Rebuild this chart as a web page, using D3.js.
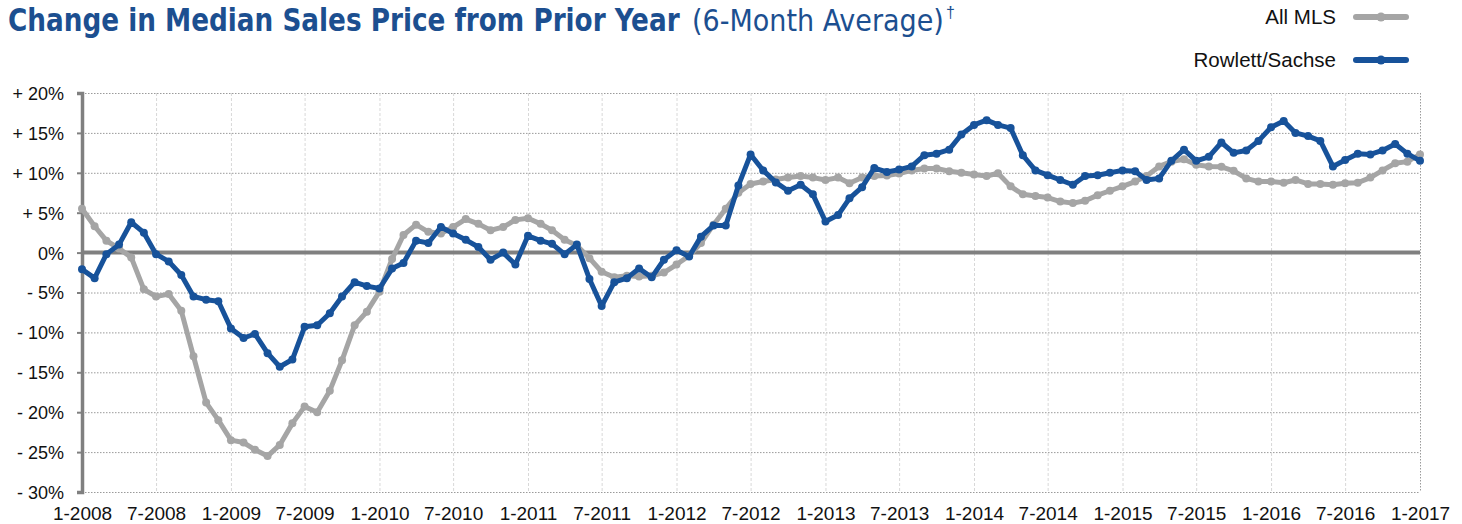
<!DOCTYPE html>
<html lang="en">
<head>
    <meta charset="UTF-8">
    <title>Change in Median Sales Price from Prior Year</title>
    <script src="https://d3js.org/d3.v7.min.js"></script>
    <style>
        body {
            margin: 0;
            background: #fff;
            font-family: "Liberation Sans", Arial, sans-serif;
        }
        svg { display: block; }
        .grid-h line { stroke: #9a9a9a; stroke-dasharray: 1.5,1.5; }
        .grid-v line { stroke: #d8d8d8; stroke-dasharray: 3,2; }
        .axis text { font-size: 18px; fill: #111; }
        .axis-x text { font-size: 19px; }
    </style>
</head>
<body>
<svg id="chart" width="1462" height="524"></svg>
<script>
    // monthly values, 1-2008 .. 1-2017 (6-month average, % change)
    const allMLS = [
        5.5, 3.3, 1.5, 0.5, -0.6, -4.6, -5.5, -5.2, -7.3, -13.0, -18.8, -21.0,
        -23.5, -23.8, -24.7, -25.5, -24.1, -21.4, -19.3, -20.0, -17.3, -13.5, -9.1, -7.4,
        -4.9, -0.8, 2.2, 3.5, 2.6, 2.4, 3.2, 4.2, 3.6, 2.8, 3.2, 4.1,
        4.3, 3.6, 2.8, 1.6, 0.9, -0.7, -2.4, -3.1, -2.9, -3.0, -2.9, -2.5,
        -1.5, -0.4, 1.2, 3.5, 5.5, 7.5, 8.6, 8.9, 9.15, 9.4, 9.6, 9.4,
        9.1, 9.4, 8.7, 9.4, 9.6, 9.65, 9.9, 10.3, 10.55, 10.55, 10.2, 10.0,
        9.8, 9.6, 9.95, 8.3, 7.3, 7.1, 6.9, 6.4, 6.2, 6.5, 7.2, 7.75,
        8.3, 8.9, 9.6, 10.8, 11.4, 11.7, 11.0, 10.8, 10.75, 10.25, 9.3, 8.9,
        8.9, 8.75, 9.1, 8.6, 8.6, 8.5, 8.7, 8.75, 9.4, 10.3, 11.2, 11.4,
        12.3
    ];
    const rowlett = [
        -2.1, -3.2, -0.2, 1.0, 3.8, 2.5, -0.2, -1.1, -2.8, -5.5, -5.9, -6.1,
        -9.5, -10.7, -10.2, -12.6, -14.3, -13.4, -9.3, -9.1, -7.6, -5.5, -3.7, -4.2,
        -4.5, -2.0, -1.3, 1.5, 1.2, 3.2, 2.4, 1.6, 0.7, -0.9, 0.0, -1.5,
        2.1, 1.5, 1.1, -0.2, 1.0, -3.3, -6.7, -3.7, -3.2, -2.0, -3.1, -0.9,
        0.3, -0.5, 2.0, 3.4, 3.4, 8.4, 12.3, 10.3, 8.8, 7.75, 8.5, 7.3,
        3.9, 4.7, 6.8, 8.2, 10.6, 10.1, 10.4, 10.8, 12.2, 12.4, 12.9, 14.8,
        16.0, 16.6, 16.0, 15.6, 12.2, 10.3, 9.7, 9.1, 8.5, 9.6, 9.7, 10.0,
        10.3, 10.2, 9.1, 9.3, 11.5, 12.9, 11.5, 12.0, 13.8, 12.5, 12.8, 14.0,
        15.7, 16.5, 15.0, 14.6, 14.0, 10.8, 11.6, 12.4, 12.3, 12.8, 13.6, 12.4,
        11.5
    ];
    const months = d3.timeMonth.range(new Date(2008, 0, 1), new Date(2017, 1, 1));
    const yTicks = [20, 15, 10, 5, 0, -5, -10, -15, -20, -25, -30];
    const xTicks = months.filter(d => d.getMonth() % 6 === 0);

    const series = [
        { name: "All MLS", values: allMLS, color: "#a5a5a5" },
        { name: "Rowlett/Sachse", values: rowlett, color: "#17529a" }
    ];

    const svg = d3.select("#chart");
    const x = d3.scaleTime().domain([months[0], months[months.length - 1]]).range([82, 1420]);
    const y = d3.scaleLinear().domain([-30, 20]).range([492, 93]);

    // 标题: 每段文字横向压缩到参考宽度
    function fitText(txt, x0, width, size, weight) {
        const t = svg.append("text").attr("y", 31).attr("fill", "#1c4f90")
            .attr("font-size", size).attr("font-weight", weight)
            .style("font-family", "'Liberation Sans Narrow', 'DejaVu Sans Condensed', sans-serif")
            .text(txt);
        const w = t.node().getComputedTextLength();
        t.attr("transform", `translate(${x0},0) scale(${width / w},1)`);
        return t;
    }
    fitText("Change in Median Sales Price from Prior Year", 8, 672, 32, "bold");
    fitText("(6-Month Average)", 692, 252, 30, "normal");
    svg.append("text").attr("x", 946).attr("y", 18).attr("fill", "#1c4f90")
        .attr("font-size", 16).text("†");

    // 横向网格
    svg.append("g").attr("class", "grid-h")
        .selectAll("line").data(yTicks.filter(d => d !== 0)).join("line")
        .attr("x1", 82).attr("x2", 1420)
        .attr("y1", d => y(d) + 0.5).attr("y2", d => y(d) + 0.5);

    // 纵向网格
    svg.append("g").attr("class", "grid-v")
        .selectAll("line").data(xTicks.slice(1, -1)).join("line")
        .attr("x1", d => x(d) + 0.5).attr("x2", d => x(d) + 0.5)
        .attr("y1", 93).attr("y2", 492);
    svg.append("line")
        .attr("x1", 1420.5).attr("x2", 1420.5).attr("y1", 93).attr("y2", 492)
        .attr("stroke", "#9a9a9a").attr("stroke-dasharray", "1.5,1.5");

    // 零线
    svg.append("line")
        .attr("x1", 82).attr("x2", 1420).attr("y1", y(0)).attr("y2", y(0))
        .attr("stroke", "#808080").attr("stroke-width", 4);

    // y轴
    const yAxis = svg.append("g").attr("class", "axis").attr("transform", "translate(82,0)")
        .call(d3.axisLeft(y).tickValues(yTicks).tickSize(5).tickPadding(13)
            .tickFormat(d => d > 0 ? "+ " + d + "%" : d < 0 ? "- " + (-d) + "%" : "0%"));
    yAxis.select(".domain").attr("stroke", "#808080").attr("stroke-width", 3.5);
    yAxis.selectAll(".tick line").attr("stroke", "#808080").attr("stroke-width", 2);
    yAxis.selectAll("text").attr("dy", "0.36em");

    // x轴
    const xAxis = svg.append("g").attr("class", "axis axis-x").attr("transform", "translate(0,492)")
        .call(d3.axisBottom(x).tickValues(xTicks).tickSize(0).tickPadding(15)
            .tickFormat(d => (d.getMonth() + 1) + "-" + d.getFullYear()));
    xAxis.select(".domain").remove();

    // 折线与点
    const line = d3.line().x((d, i) => x(months[i])).y(d => y(d));
    series.forEach(s => {
        const g = svg.append("g");
        g.append("path").datum(s.values)
            .attr("fill", "none").attr("stroke", s.color)
            .attr("stroke-width", 5).attr("stroke-linejoin", "round")
            .attr("d", line);
        g.selectAll("circle").data(s.values).join("circle")
            .attr("cx", (d, i) => x(months[i])).attr("cy", d => y(d))
            .attr("r", 4).attr("fill", s.color);
    });

    // 图例
    const legend = svg.append("g");
    series.forEach((s, i) => {
        const ly = 17 + i * 43;
        legend.append("text").attr("x", 1336).attr("y", ly + 7)
            .attr("text-anchor", "end").attr("font-size", 20.5).attr("fill", "#111")
            .text(s.name);
        legend.append("line").attr("x1", 1356).attr("x2", 1406)
            .attr("y1", ly).attr("y2", ly)
            .attr("stroke", s.color).attr("stroke-width", 6).attr("stroke-linecap", "round");
        legend.append("circle").attr("cx", 1381).attr("cy", ly).attr("r", 4.5).attr("fill", s.color);
    });
</script>
</body>
</html>
